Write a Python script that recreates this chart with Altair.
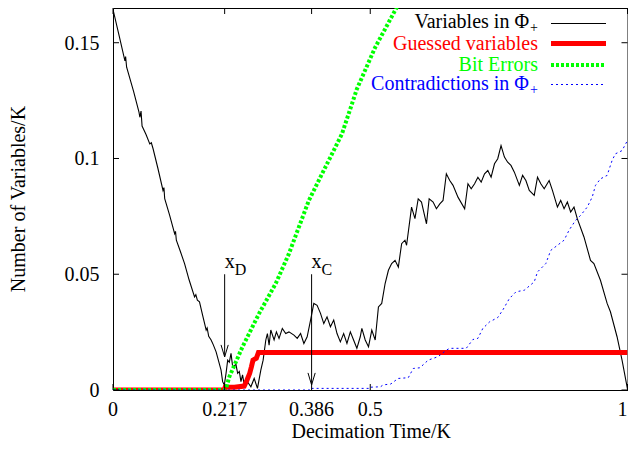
import altair as alt
import pandas as pd

# ---------------- data ----------------
# Variables in Phi_+ (black)
black_x = [0.0006, 0.0120, 0.0232, 0.0245, 0.0265, 0.0400, 0.0505, 0.0522, 0.0545, 0.0565,
           0.0640, 0.0715, 0.0745, 0.0779, 0.0870, 0.0972, 0.0990, 0.1005, 0.1100, 0.1198,
           0.1215, 0.1231, 0.1310, 0.1391, 0.1480, 0.1585, 0.1610, 0.1640, 0.1681, 0.1740,
           0.1811, 0.1830, 0.1860, 0.1907, 0.1950, 0.2004, 0.2100, 0.2131, 0.2164,
           0.2197, 0.2229, 0.2261, 0.2294, 0.2326, 0.2390, 0.2423, 0.2455, 0.2487, 0.2518,
           0.2551, 0.2600, 0.2680, 0.2744, 0.2808, 0.2873, 0.2918, 0.2970, 0.3001, 0.3034,
           0.3067, 0.3131, 0.3176, 0.3227, 0.3291, 0.3357, 0.3420, 0.3517, 0.3581, 0.3646,
           0.3710, 0.3774, 0.3840, 0.3903, 0.3967, 0.4033, 0.4097, 0.4160, 0.4226, 0.4290,
           0.4354, 0.4419, 0.4483, 0.4547, 0.4613, 0.4676, 0.4740, 0.4806, 0.4837, 0.4902,
           0.4966, 0.5030, 0.5096, 0.5159, 0.5223, 0.5289, 0.5353, 0.5416, 0.5482, 0.5546,
           0.5610, 0.5675, 0.5706, 0.5803, 0.5869, 0.5932, 0.5996, 0.6093, 0.6145, 0.6222,
           0.6286, 0.6352, 0.6415, 0.6479, 0.6545, 0.6609, 0.6705, 0.6835, 0.6899, 0.6962,
           0.7028, 0.7092, 0.7156, 0.7221, 0.7285, 0.7349, 0.7415, 0.7478, 0.7542, 0.7608,
           0.7671, 0.7735, 0.7801, 0.7898, 0.7961, 0.8025, 0.8091, 0.8187, 0.8251, 0.8315,
           0.8381, 0.8477, 0.8541, 0.8638, 0.8702, 0.8767, 0.8831, 0.8895, 0.8960, 0.9024,
           0.9154, 0.9281, 0.9347, 0.9474, 0.9604, 0.9668, 0.9797, 0.9894, 1.0000]
black_y = [0.1638, 0.1530, 0.1422, 0.1440, 0.1394, 0.1290, 0.1200, 0.1178, 0.1205, 0.1140,
           0.1105, 0.1063, 0.1068, 0.1042, 0.0960, 0.0862, 0.0874, 0.0826, 0.0755, 0.0675,
           0.0685, 0.0647, 0.0598, 0.0546, 0.0475, 0.0402, 0.0412, 0.0388, 0.0381, 0.0325,
           0.0259, 0.0268, 0.0232, 0.0216, 0.0195, 0.0165, 0.0086, 0.0036, 0.0022,
           0.0072, 0.0129, 0.0120, 0.0158, 0.0100, 0.0110, 0.0072, 0.0080, 0.0036, 0.0065,
           0.0022, 0.0040, 0.0014, 0.0050, 0.0007, 0.0086, 0.0129, 0.0216, 0.0244, 0.0194,
           0.0259, 0.0216, 0.0251, 0.0223, 0.0266, 0.0244, 0.0251, 0.0237, 0.0223, 0.0244,
           0.0201, 0.0230, 0.0302, 0.0374, 0.0366, 0.0331, 0.0287, 0.0316, 0.0273, 0.0302,
           0.0244, 0.0208, 0.0244, 0.0201, 0.0251, 0.0216, 0.0180, 0.0230, 0.0266, 0.0216,
           0.0187, 0.0259, 0.0216, 0.0359, 0.0374, 0.0460, 0.0517, 0.0546, 0.0560, 0.0531,
           0.0632, 0.0647, 0.0625, 0.0790, 0.0740, 0.0826, 0.0812, 0.0718, 0.0826, 0.0812,
           0.0783, 0.0804, 0.0819, 0.0934, 0.0905, 0.0884, 0.0833, 0.0783, 0.0891, 0.0869,
           0.0891, 0.0919, 0.0898, 0.0934, 0.0948, 0.0919, 0.0977, 0.0999, 0.1056, 0.1006,
           0.0984, 0.0970, 0.0941, 0.0884, 0.0927, 0.0905, 0.0862, 0.0841, 0.0919, 0.0891,
           0.0869, 0.0905, 0.0862, 0.0790, 0.0819, 0.0783, 0.0812, 0.0769, 0.0790, 0.0740,
           0.0661, 0.0560, 0.0546, 0.0474, 0.0374, 0.0338, 0.0230, 0.0129, 0.0004]

# Guessed variables (red)
red_x = [0.0, 0.2165, 0.2180, 0.2360, 0.2550, 0.2605, 0.2657, 0.2690, 0.2721, 0.2786, 0.2827, 1.0]
red_y = [0.0, 0.0, 0.0012, 0.0012, 0.0017, 0.0043, 0.0072, 0.0100, 0.0129, 0.0137, 0.0162, 0.0162]

# Bit Errors (green)
green_x = [0.0, 0.2170, 0.2197, 0.2261, 0.2518, 0.2841, 0.3163, 0.3420, 0.3807, 0.4129,
           0.4450, 0.4740, 0.5096, 0.5513, 0.5570]
green_y = [0.0, 0.0, 0.0007, 0.0057, 0.0187, 0.0331, 0.0460, 0.0589, 0.0819, 0.0963,
           0.1106, 0.1300, 0.1480, 0.1652, 0.1680]

# Contradictions in Phi_+ (blue)
blue_x = [0.0, 0.3860, 0.3865, 0.4990, 0.5000, 0.5200, 0.5250, 0.5400, 0.5500, 0.5546,
          0.5739, 0.5836, 0.5965, 0.6126, 0.6319, 0.6479, 0.6545, 0.6866, 0.6995, 0.7092,
          0.7188, 0.7318, 0.7478, 0.7575, 0.7704, 0.7832, 0.7994, 0.8187, 0.8251, 0.8412,
          0.8508, 0.8638, 0.8767, 0.8864, 0.8991, 0.9088, 0.9217, 0.9314, 0.9378, 0.9474,
          0.9604, 0.9700, 0.9764, 0.9894, 1.0000]
blue_y = [0.0, 0.0, 0.0007, 0.0007, 0.0012, 0.0014, 0.0022, 0.0026, 0.0043, 0.0050,
          0.0053, 0.0093, 0.0096, 0.0129, 0.0144, 0.0172, 0.0180, 0.0180, 0.0218, 0.0223,
          0.0266, 0.0294, 0.0313, 0.0345, 0.0395, 0.0424, 0.0431, 0.0467, 0.0510, 0.0546,
          0.0603, 0.0625, 0.0647, 0.0690, 0.0733, 0.0754, 0.0790, 0.0833, 0.0884, 0.0912,
          0.0927, 0.0991, 0.1020, 0.1034, 0.1078]

x_ticks = [0, 0.217, 0.386, 0.5, 1]
x_tick_labels = ["0", "0.217", "0.386", "0.5", "1"]
y_ticks = [0, 0.05, 0.1, 0.15]
y_tick_labels = ["0", "0.05", "0.1", "0.15"]

x_title = "Decimation Time/K"
y_title = "Number of Variables/K"

arrow_x = [0.217, 0.386]
arrow_top = [0.05, 0.05]
arrow_tip = [0.0143, 0.0022]
arrow_sub = ["D", "C"]

legend_labels = ["Variables in \u03a6", "Guessed variables", "Bit Errors", "Contradictions in \u03a6"]
legend_subs = ["+", "", "", "+"]

# ---------------- styling ----------------
FONT = "Liberation Serif"
W, H = 514.5, 382
xscale = alt.Scale(domain=[0, 1], nice=False, zero=False)
yscale = alt.Scale(domain=[0, 0.165], nice=False, zero=False)

styles = [
    dict(color="#000000", strokeWidth=1.1),
    dict(color="#ff0000", strokeWidth=5),
    dict(color="#00ff00", strokeWidth=4, strokeDash=[3, 2]),
    dict(color="#0000ff", strokeWidth=1, strokeDash=[2, 3]),
]


def X(field):
    return alt.X(field, scale=xscale, axis=None)


def Y(field):
    return alt.Y(field, scale=yscale, axis=None)


def series(xs, ys, st):
    df = pd.DataFrame({"x": xs, "y": ys})
    return alt.Chart(df).mark_line(clip=True, strokeCap="butt", strokeJoin="miter", **st).encode(
        x=X("x:Q"), y=Y("y:Q"))


layers = [
    series(black_x, black_y, styles[0]),
    series(red_x, red_y, styles[1]),
    series(green_x, green_y, styles[2]),
    series(blue_x, blue_y, styles[3]),
]

# inner ticks (gnuplot style, mirrored) and tick labels
xt = pd.DataFrame({"t": x_ticks, "label": x_tick_labels})
yt = pd.DataFrame({"t": y_ticks, "label": y_tick_labels})
layers.append(alt.Chart(xt).mark_rule(color="black", strokeWidth=1).encode(
    x=X("t:Q"), y=alt.value(H), y2=alt.value(H - 6)))
layers.append(alt.Chart(xt).mark_rule(color="black", strokeWidth=1).encode(
    x=X("t:Q"), y=alt.value(0), y2=alt.value(6)))
layers.append(alt.Chart(yt).mark_rule(color="black", strokeWidth=1).encode(
    y=Y("t:Q"), x=alt.value(0), x2=alt.value(6)))
layers.append(alt.Chart(yt).mark_rule(color="black", strokeWidth=1).encode(
    y=Y("t:Q"), x=alt.value(W - 6), x2=alt.value(W)))
# all x labels centred on their tick, except the last one which must stay inside the page
xt_mid = xt.iloc[:-1]
xt_end = xt.iloc[-1:]
layers.append(alt.Chart(xt_mid).mark_text(
    align="center", baseline="alphabetic", font=FONT, fontSize=20, color="black").encode(
    x=X("t:Q"), y=alt.value(H + 25.5), text="label:N"))
layers.append(alt.Chart(xt_end).mark_text(
    align="right", baseline="alphabetic", dx=0, font=FONT, fontSize=20, color="black").encode(
    x=X("t:Q"), y=alt.value(H + 25.5), text="label:N"))
layers.append(alt.Chart(yt).mark_text(
    align="right", baseline="alphabetic", dy=7, font=FONT, fontSize=20, color="black").encode(
    y=Y("t:Q"), x=alt.value(-13.5), text="label:N"))

# axis titles
tdf = pd.DataFrame({"xt": [x_title], "yt": [y_title]})
layers.append(alt.Chart(tdf).mark_text(
    align="center", baseline="alphabetic", font=FONT, fontSize=20, color="black").encode(
    x=alt.value(W / 2 + 1), y=alt.value(H + 47.5), text="xt:N"))
layers.append(alt.Chart(tdf).mark_text(
    align="center", baseline="alphabetic", angle=270, font=FONT, fontSize=20, color="black").encode(
    x=alt.value(-88), y=alt.value(191), text="yt:N"))

# arrows with x_D / x_C labels
adf = pd.DataFrame({"x": arrow_x, "top": arrow_top, "tip": arrow_tip, "sub": arrow_sub})
layers.append(alt.Chart(adf).mark_rule(color="black", strokeWidth=1).encode(
    x=X("x:Q"), y=Y("top:Q"), y2="tip:Q"))
layers.append(alt.Chart(adf).mark_point(
    shape="M -0.6 -2 L 0 0 L 0.6 -2", size=144, filled=False, stroke="black",
    strokeWidth=1, opacity=1).encode(x=X("x:Q"), y=Y("tip:Q")))
layers.append(alt.Chart(adf).mark_text(
    text="x", align="left", baseline="alphabetic", dx=0, dy=-6, font=FONT, fontSize=20,
    color="black").encode(x=X("x:Q"), y=Y("top:Q")))
layers.append(alt.Chart(adf).mark_text(
    align="left", baseline="alphabetic", dx=10, dy=1, font=FONT, fontSize=16,
    color="black").encode(x=X("x:Q"), y=Y("top:Q"), text="sub:N"))

# legend (gnuplot key, top right)
text_right = [416, 425, 425, 416]
text_base = [19.5, 42, 62.5, 81.5]
line_y = [15.5, 35.5, 57, 76.5]
for i, lab in enumerate(legend_labels):
    st = styles[i]
    col = st["color"]
    ldf = pd.DataFrame({"label": [lab], "sub": [legend_subs[i]]})
    layers.append(alt.Chart(ldf).mark_text(
        align="right", baseline="alphabetic", font=FONT, fontSize=20, color=col).encode(
        text="label:N", x=alt.value(text_right[i]), y=alt.value(text_base[i])))
    if legend_subs[i]:
        layers.append(alt.Chart(ldf).mark_text(
            align="left", baseline="alphabetic", font=FONT, fontSize=14, color=col).encode(
            text="sub:N", x=alt.value(text_right[i] + 1), y=alt.value(text_base[i] + 4.5)))
    layers.append(alt.Chart(ldf).mark_rule(strokeCap="butt", **st).encode(
        x=alt.value(438), x2=alt.value(493), y=alt.value(line_y[i])))

chart = alt.layer(*layers).properties(
    width=W, height=H,
    autosize=alt.AutoSizeParams(type="none"),
    padding={"left": 105, "top": 0, "right": 0.5, "bottom": 52},
    background="white",
).configure_view(stroke="black", strokeWidth=1)

chart.save("out.html", embed_options={"renderer": "svg", "actions": False})
